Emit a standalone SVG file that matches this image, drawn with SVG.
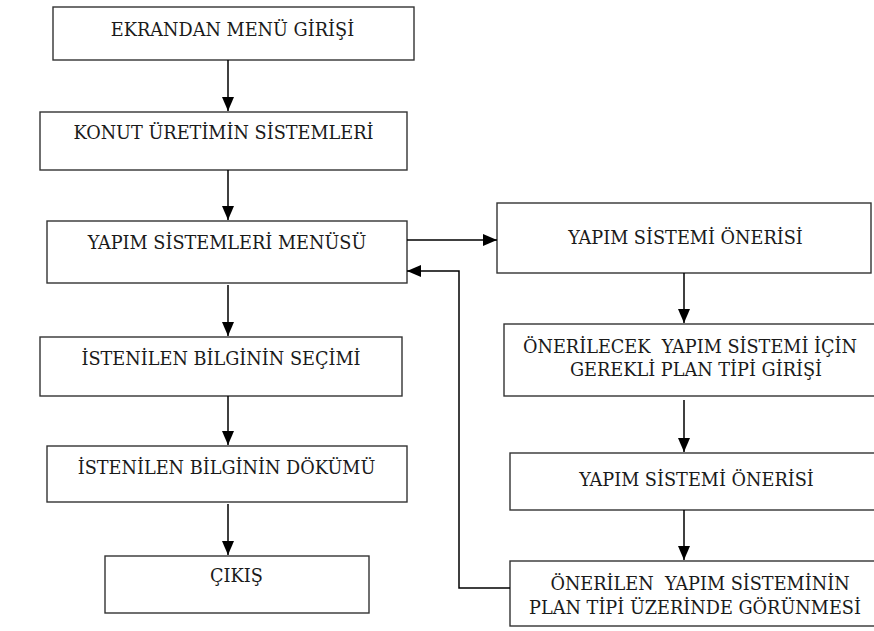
<svg xmlns="http://www.w3.org/2000/svg" width="874" height="631" viewBox="0 0 874 631">
<defs>
<marker id="ah" markerUnits="userSpaceOnUse" markerWidth="14" markerHeight="12" viewBox="0 0 14 12" refX="14" refY="6" orient="auto">
<path d="M0,0 L14,6 L0,12 Z" fill="#000"/>
</marker>
<style>
.box{fill:#fff;stroke:#333;stroke-width:1.4}
.t{font-family:'DejaVu Serif',serif;font-size:17.7px;fill:#1a1a1a;text-anchor:middle;white-space:pre}
.c{fill:none;stroke:#000;stroke-width:1.5}
</style>
</defs>
<rect width="874" height="631" fill="#fff"/>
<g id="n1"><rect class="box" x="53" y="7" width="361" height="53"/><text class="t" x="232.5" y="36">EKRANDAN MENÜ GİRİŞİ</text></g>
<g id="n2"><rect class="box" x="40" y="112" width="367" height="58"/><text class="t" x="223.5" y="139">KONUT ÜRETİMİN SİSTEMLERİ</text></g>
<g id="n3"><rect class="box" x="47" y="221" width="360" height="62"/><text class="t" x="227" y="249">YAPIM SİSTEMLERİ MENÜSÜ</text></g>
<g id="n4"><rect class="box" x="40" y="337" width="362" height="59"/><text class="t" x="221" y="365">İSTENİLEN BİLGİNİN SEÇİMİ</text></g>
<g id="n5"><rect class="box" x="47" y="446" width="360" height="56"/><text class="t" x="226.5" y="474">İSTENİLEN BİLGİNİN DÖKÜMÜ</text></g>
<g id="n6"><rect class="box" x="105" y="556" width="264" height="57"/><text class="t" x="236.5" y="582">ÇIKIŞ</text></g>
<g id="r1"><rect class="box" x="497" y="203" width="374" height="70"/><text class="t" x="685.5" y="244">YAPIM SİSTEMİ ÖNERİSİ</text></g>
<g id="r2"><rect class="box" x="504" y="324" width="380" height="72"/><text class="t" x="690" y="353">ÖNERİLECEK  YAPIM SİSTEMİ İÇİN</text><text class="t" x="696" y="376">GEREKLİ PLAN TİPİ GİRİŞİ</text></g>
<g id="r3"><rect class="box" x="510" y="453" width="380" height="57"/><text class="t" x="696.5" y="486">YAPIM SİSTEMİ ÖNERİSİ</text></g>
<g id="r4"><rect class="box" x="510" y="561" width="380" height="65"/><text class="t" x="700" y="590">ÖNERİLEN  YAPIM SİSTEMİNİN</text><text class="t" x="695" y="614">PLAN TİPİ ÜZERİNDE GÖRÜNMESİ</text></g>
<g id="connectors">
<line class="c" x1="228" y1="60" x2="228" y2="111" marker-end="url(#ah)"/>
<line class="c" x1="228" y1="170" x2="228" y2="220" marker-end="url(#ah)"/>
<line class="c" x1="228" y1="285" x2="228" y2="336" marker-end="url(#ah)"/>
<line class="c" x1="228" y1="396" x2="228" y2="445" marker-end="url(#ah)"/>
<line class="c" x1="228" y1="504" x2="228" y2="555" marker-end="url(#ah)"/>
<line class="c" x1="407" y1="240" x2="497" y2="240" marker-end="url(#ah)"/>
<line class="c" x1="684" y1="273" x2="684" y2="323" marker-end="url(#ah)"/>
<line class="c" x1="684" y1="400" x2="684" y2="452" marker-end="url(#ah)"/>
<line class="c" x1="684" y1="510" x2="684" y2="560" marker-end="url(#ah)"/>
<polyline class="c" points="510,588 459,588 459,271 407,271" marker-end="url(#ah)"/>
</g>
</svg>
